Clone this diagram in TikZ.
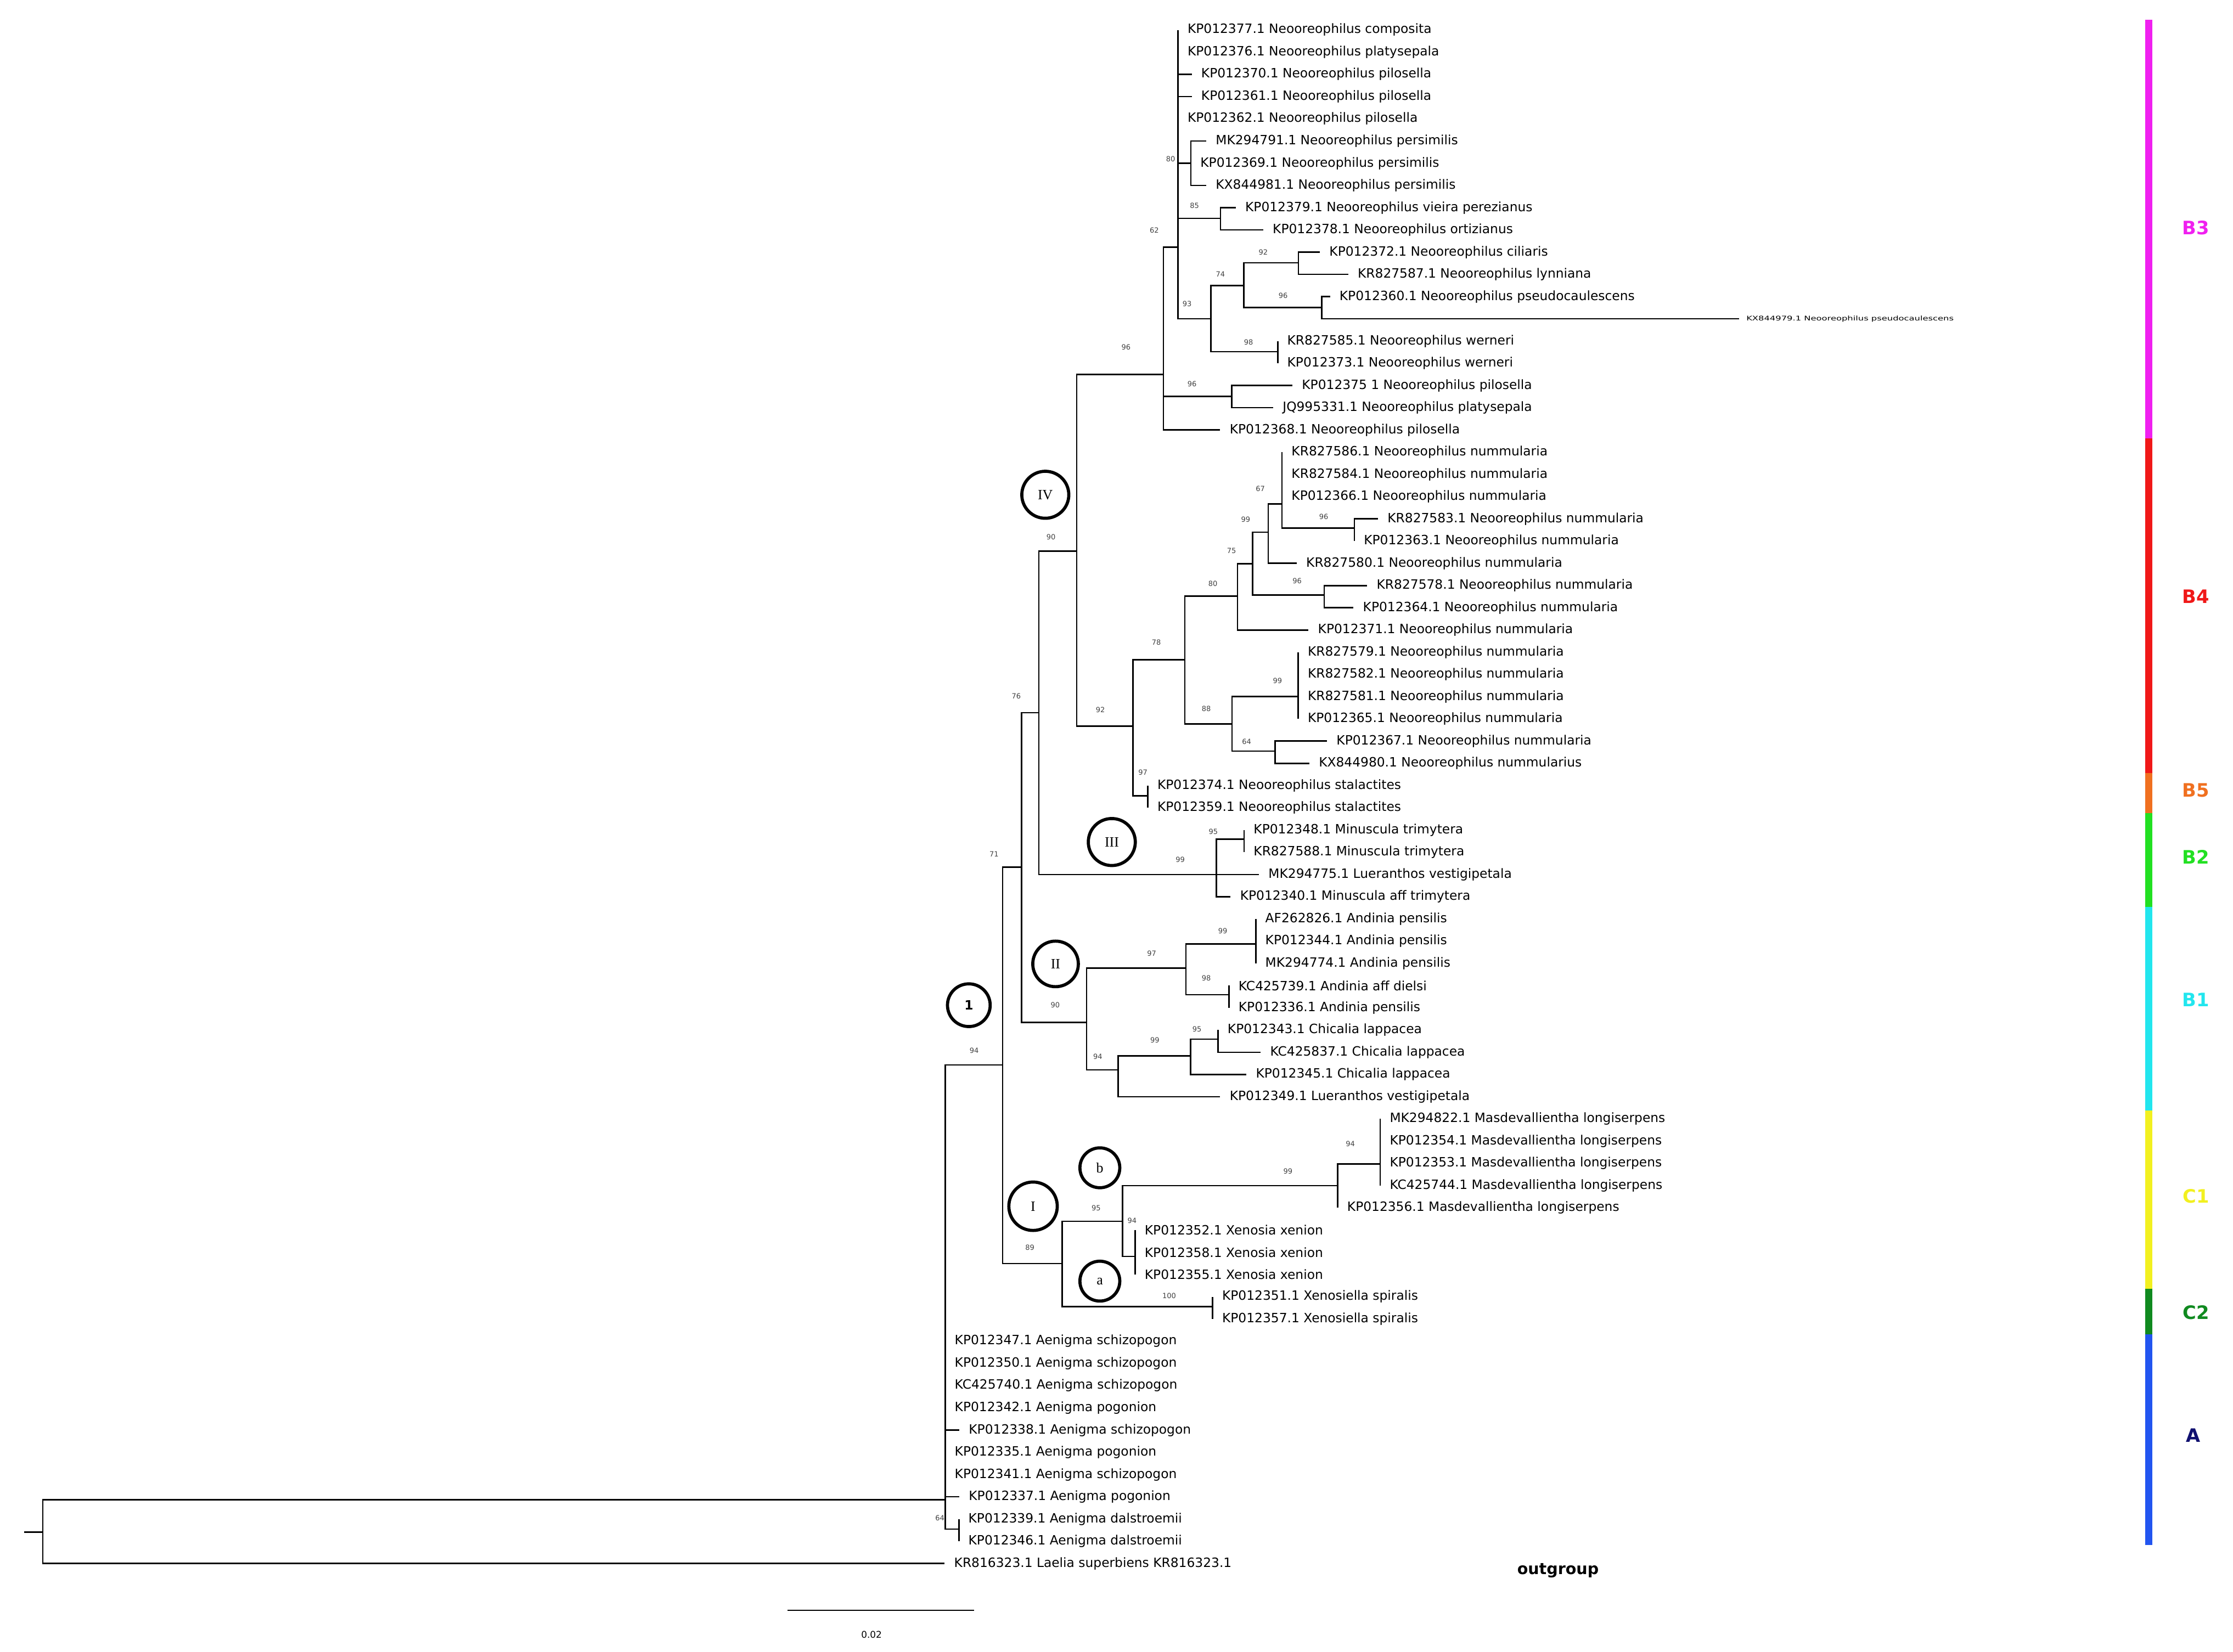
\documentclass[tikz,border=0pt]{standalone}
\usepackage{fontspec}
\setmainfont{DejaVu Sans}
\newfontfamily\serifx{Liberation Serif}
\definecolor{cB3}{HTML}{F020F0}
\definecolor{cB4}{HTML}{F01818}
\definecolor{cB5}{HTML}{F07020}
\definecolor{cB2}{HTML}{22E022}
\definecolor{cB1}{HTML}{22E6EE}
\definecolor{cC1}{HTML}{F2F020}
\definecolor{cC2}{HTML}{108A20}
\definecolor{cA}{HTML}{2255F0}
\definecolor{cAl}{HTML}{101070}
\begin{document}
\begin{tikzpicture}[x=1pt,y=-1pt,
  br/.style={line width=1pt,black},
  leaf/.style={anchor=west,inner sep=0pt,font=\fontsize{9}{9}\selectfont},
  bs/.style={inner sep=0pt,text=black!75,font=\fontsize{5}{6}\selectfont},
  cl/.style={circle,draw,line width=2.2pt,inner sep=0pt,font=\serifx\fontsize{10}{10}\selectfont},
  bar/.style={line width=5pt},
  blab/.style={font=\bfseries\fontsize{13}{14}\selectfont}]
\useasboundingbox (0,0) rectangle (1568,1160);
\newcommand\LF[4]{\coordinate (#1) at ({#2},{21+(#3-1)*15.61}); \node[leaf] (#1t) at ({#2+6.5},{21+(#3-1)*15.61}) {#4};}
% leaves
\LF{l1}{827.2}{1}{KP012377.1 Neooreophilus composita}
\LF{l2}{827.2}{2}{KP012376.1 Neooreophilus platysepala}
\LF{l3}{836.8}{3}{KP012370.1 Neooreophilus pilosella}
\LF{l4}{836.8}{4}{KP012361.1 Neooreophilus pilosella}
\LF{l5}{827.2}{5}{KP012362.1 Neooreophilus pilosella}
\LF{l6}{847}{6}{MK294791.1 Neooreophilus persimilis}
\LF{l7}{836.2}{7}{KP012369.1 Neooreophilus persimilis}
\LF{l8}{847}{8}{KX844981.1 Neooreophilus persimilis}
\LF{l9}{867.7}{9}{KP012379.1 Neooreophilus vieira perezianus}
\LF{l10}{887}{10}{KP012378.1 Neooreophilus ortizianus}
\LF{l11}{926.8}{11}{KP012372.1 Neooreophilus ciliaris}
\LF{l12}{946.7}{12}{KR827587.1 Neooreophilus lynniana}
\LF{l13}{933.9}{13}{KP012360.1 Neooreophilus pseudocaulescens}
\coordinate (l14) at (1221,{21+13*15.61});
\node[leaf,font=\fontsize{4.5}{5}\selectfont,xscale=1.4] (l14t) at (1226,{21+13*15.61}) {KX844979.1 Neooreophilus pseudocaulescens};
\LF{l15}{897.2}{15}{KR827585.1 Neooreophilus werneri}
\LF{l16}{897.2}{16}{KP012373.1 Neooreophilus werneri}
\LF{l17}{907.5}{17}{KP012375 1 Neooreophilus pilosella}
\LF{l18}{894}{18}{JQ995331.1 Neooreophilus platysepala}
\LF{l19}{856.8}{19}{KP012368.1 Neooreophilus pilosella}
\LF{l20}{900.2}{20}{KR827586.1 Neooreophilus nummularia}
\LF{l21}{900.2}{21}{KR827584.1 Neooreophilus nummularia}
\LF{l22}{900.2}{22}{KP012366.1 Neooreophilus nummularia}
\LF{l23}{967.6}{23}{KR827583.1 Neooreophilus nummularia}
\LF{l24}{951}{24}{KP012363.1 Neooreophilus nummularia}
\LF{l25}{910.5}{25}{KR827580.1 Neooreophilus nummularia}
\LF{l26}{960}{26}{KR827578.1 Neooreophilus nummularia}
\LF{l27}{950.4}{27}{KP012364.1 Neooreophilus nummularia}
\LF{l28}{918.8}{28}{KP012371.1 Neooreophilus nummularia}
\LF{l29}{911.6}{29}{KR827579.1 Neooreophilus nummularia}
\LF{l30}{911.6}{30}{KR827582.1 Neooreophilus nummularia}
\LF{l31}{911.6}{31}{KR827581.1 Neooreophilus nummularia}
\LF{l32}{911.6}{32}{KP012365.1 Neooreophilus nummularia}
\LF{l33}{931.8}{33}{KP012367.1 Neooreophilus nummularia}
\LF{l34}{919.4}{34}{KX844980.1 Neooreophilus nummularius}
\LF{l35}{806}{35}{KP012374.1 Neooreophilus stalactites}
\LF{l36}{806}{36}{KP012359.1 Neooreophilus stalactites}
\LF{l37}{873.6}{37}{KP012348.1 Minuscula trimytera}
\LF{l38}{873.6}{38}{KR827588.1 Minuscula trimytera}
\LF{l39}{884}{39}{MK294775.1 Lueranthos vestigipetala}
\LF{l40}{864.1}{40}{KP012340.1 Minuscula aff trimytera}
\LF{l41}{881.8}{41}{AF262826.1 Andinia pensilis}
\LF{l42}{881.8}{42}{KP012344.1 Andinia pensilis}
\LF{l43}{881.8}{43}{MK294774.1 Andinia pensilis}
\LF{l44}{863}{44}{KC425739.1 Andinia aff dielsi}
\LF{l45}{863}{45}{KP012336.1 Andinia pensilis}
\LF{l46}{855.3}{46}{KP012343.1 Chicalia lappacea}
\LF{l47}{885.2}{47}{KC425837.1 Chicalia lappacea}
\LF{l48}{875.2}{48}{KP012345.1 Chicalia lappacea}
\LF{l49}{856.8}{49}{KP012349.1 Lueranthos vestigipetala}
\LF{l50}{969.2}{50}{MK294822.1 Masdevallientha longiserpens}
\LF{l51}{969.2}{51}{KP012354.1 Masdevallientha longiserpens}
\LF{l52}{969.2}{52}{KP012353.1 Masdevallientha longiserpens}
\LF{l53}{969.2}{53}{KC425744.1 Masdevallientha longiserpens}
\LF{l54}{939.3}{54}{KP012356.1 Masdevallientha longiserpens}
\LF{l55}{797.1}{55}{KP012352.1 Xenosia xenion}
\LF{l56}{797.1}{56}{KP012358.1 Xenosia xenion}
\LF{l57}{797.1}{57}{KP012355.1 Xenosia xenion}
\LF{l58}{851.5}{58}{KP012351.1 Xenosiella spiralis}
\LF{l59}{851.5}{59}{KP012357.1 Xenosiella spiralis}
\LF{l60}{663.7}{60}{KP012347.1 Aenigma schizopogon}
\LF{l61}{663.7}{61}{KP012350.1 Aenigma schizopogon}
\LF{l62}{663.7}{62}{KC425740.1 Aenigma schizopogon}
\LF{l63}{663.7}{63}{KP012342.1 Aenigma pogonion}
\LF{l64}{673.6}{64}{KP012338.1 Aenigma schizopogon}
\LF{l65}{663.7}{65}{KP012335.1 Aenigma pogonion}
\LF{l66}{663.7}{66}{KP012341.1 Aenigma schizopogon}
\LF{l67}{673.6}{67}{KP012337.1 Aenigma pogonion}
\LF{l68}{673.3}{68}{KP012339.1 Aenigma dalstroemii}
\LF{l69}{673.3}{69}{KP012346.1 Aenigma dalstroemii}
\LF{l70}{663.3}{70}{KR816323.1 Laelia superbiens KR816323.1}
% internal nodes
\coordinate (stub) at (17,1076);
\coordinate (root) at (30,1076);
\coordinate (ing) at (663.7,1053.4);
\coordinate (dal) at (673.3,1074);
\coordinate (c1) at (704,748);
\coordinate (n76) at (717.4,609);
\coordinate (nI) at (745.8,887.4);
\coordinate (n90) at (729.4,500.5);
\coordinate (nII) at (763,718);
\coordinate (nIV) at (756,387);
\coordinate (nIII) at (854.2,614.2);
\coordinate (nB3) at (817,263);
\coordinate (nA) at (827.2,173.5);
\coordinate (nG) at (836.2,114.7);
\coordinate (nH) at (857,153.3);
\coordinate (nB) at (850.3,223.9);
\coordinate (nC) at (873.5,200.5);
\coordinate (nE) at (911.8,184.5);
\coordinate (nF) at (928.1,216);
\coordinate (nD) at (897.2,247);
\coordinate (nJ) at (865,278.5);
\coordinate (nP) at (795.6,510);
\coordinate (nQ) at (832,463.4);
\coordinate (nR) at (869,418.6);
\coordinate (nS) at (879.5,396);
\coordinate (nT) at (890.5,373.8);
\coordinate (nU) at (900.2,354);
\coordinate (nV) at (951,371);
\coordinate (nW) at (929.8,418);
\coordinate (nX) at (865.1,508.5);
\coordinate (nY) at (911.6,489.2);
\coordinate (nZ) at (895.4,527.5);
\coordinate (nAA) at (806,559);
\coordinate (n95a) at (873.6,589.4);
\coordinate (n97) at (832.7,680);
\coordinate (n99c) at (881.8,663);
\coordinate (n98) at (863,698.6);
\coordinate (n94b) at (785.2,751.4);
\coordinate (n99b) at (836,741.5);
\coordinate (n95c) at (855.3,729.8);
\coordinate (n95) at (788.3,857.8);
\coordinate (n99m) at (939.3,832.8);
\coordinate (n94m) at (969.2,817.6);
\coordinate (nXen) at (797.1,882.5);
\coordinate (n100) at (851.5,917.8);
% branches
\draw[br] (stub) -- (root);
\foreach \p/\c in {root/ing,root/l70,ing/c1,ing/l60,ing/l61,ing/l62,ing/l63,ing/l64,ing/l65,ing/l66,ing/l67,ing/dal,dal/l68,dal/l69,
 c1/n76,c1/nI,n76/n90,n76/nII,n90/nIV,n90/nIII,nIV/nB3,nIV/nP,
 nB3/nA,nB3/nJ,nB3/l19,nA/l1,nA/l2,nA/l3,nA/l4,nA/l5,nA/nG,nA/nH,nA/nB,nG/l6,nG/l7,nG/l8,nH/l9,nH/l10,
 nB/nC,nB/nD,nC/nE,nC/nF,nE/l11,nE/l12,nF/l13,nF/l14,nD/l15,nD/l16,nJ/l17,nJ/l18,
 nP/nQ,nP/nAA,nQ/nR,nQ/nX,nR/nS,nR/l28,nS/nT,nS/nW,nT/nU,nT/l25,nU/l20,nU/l21,nU/l22,nU/nV,nV/l23,nV/l24,nW/l26,nW/l27,
 nX/nY,nX/nZ,nY/l29,nY/l30,nY/l31,nY/l32,nZ/l33,nZ/l34,nAA/l35,nAA/l36,
 nIII/n95a,nIII/l39,nIII/l40,n95a/l37,n95a/l38,
 nII/n97,nII/n94b,n97/n99c,n97/n98,n99c/l41,n99c/l42,n99c/l43,n98/l44,n98/l45,
 n94b/n99b,n94b/l49,n99b/n95c,n99b/l48,n95c/l46,n95c/l47,
 nI/n95,nI/n100,n95/n99m,n95/nXen,n99m/n94m,n99m/l54,n94m/l50,n94m/l51,n94m/l52,n94m/l53,
 nXen/l55,nXen/l56,nXen/l57,n100/l58,n100/l59}
 \draw[br] (\p) |- (\c);
% bootstrap values
\foreach \t/\x/\y [count=\i] in {80/822/111.8,85/838.8/144.6,62/810.5/161.9,92/887/177,74/857/192.7,96/901/207.8,93/833.6/213.5,98/876.7/240.3,96/837/269.8,96/790.7/244,90/738/377,76/713.6/489,71/698/600,94/684/738,
 67/885/343.3,96/929.5/363,99/874.7/365,75/864.8/386.7,96/910.8/408,80/851.7/410,78/812/451,99/897/478,88/847/497.8,92/772.7/498.5,64/875.4/521,97/802.5/542.3,
 95/852/584,99/828.7/603.9,99/858.6/654,97/808.7/669.8,98/847/687,90/741/706,95/840.5/722.9,99/810.9/730.7,94/770.8/742,
 94/948.2/803.5,99/904.4/822.8,95/769.7/848.5,94/794.9/857.4,89/723.2/876,100/821/910,64/660/1066}
 \node[bs] (bs\i) at (\x,\y) {\t};
% clade circles
\node[cl,minimum size=33pt] (cIV) at (734,347.5) {IV};
\node[cl,minimum size=33pt] (cIII) at (780.7,591.4) {III};
\node[cl,minimum size=32pt] (cII) at (741.2,677) {II};
\node[cl,minimum size=30pt,font=\bfseries\fontsize{9}{9}\selectfont] (c1l) at (680.3,706) {1};
\node[cl,minimum size=28pt] (cb) at (772.3,820.2) {b};
\node[cl,minimum size=34pt] (cIl) at (725.4,847.2) {I};
\node[cl,minimum size=28pt] (ca) at (772.3,899.8) {a};
% colour bar
\draw[bar,cB3] (1509,14) -- (1509,308);
\draw[bar,cB4] (1509,308) -- (1509,543);
\draw[bar,cB5] (1509,543) -- (1509,571);
\draw[bar,cB2] (1509,571) -- (1509,637);
\draw[bar,cB1] (1509,637) -- (1509,780);
\draw[bar,cC1] (1509,780) -- (1509,905);
\draw[bar,cC2] (1509,905) -- (1509,937);
\draw[bar,cA] (1509,937) -- (1509,1085);
\node[blab,text=cB3] (tB3) at (1542,160) {B3};
\node[blab,text=cB4] (tB4) at (1542,419) {B4};
\node[blab,text=cB5] (tB5) at (1542,555) {B5};
\node[blab,text=cB2] (tB2) at (1542,602) {B2};
\node[blab,text=cB1] (tB1) at (1542,702) {B1};
\node[blab,text=cC1] (tC1) at (1542,840) {C1};
\node[blab,text=cC2] (tC2) at (1542,922) {C2};
\node[blab,text=cAl] (tA) at (1540,1008) {A};
\node[font=\bfseries\fontsize{11}{12}\selectfont] (og) at (1094,1103) {outgroup};
% scale bar
\coordinate (sb1) at (553,1131);
\coordinate (sb2) at (684,1131);
\draw[line width=0.8pt] (sb1) -- (sb2);
\node[font=\fontsize{6.5}{7}\selectfont] (sbl) at (612,1148) {0.02};
\end{tikzpicture}
\end{document}
